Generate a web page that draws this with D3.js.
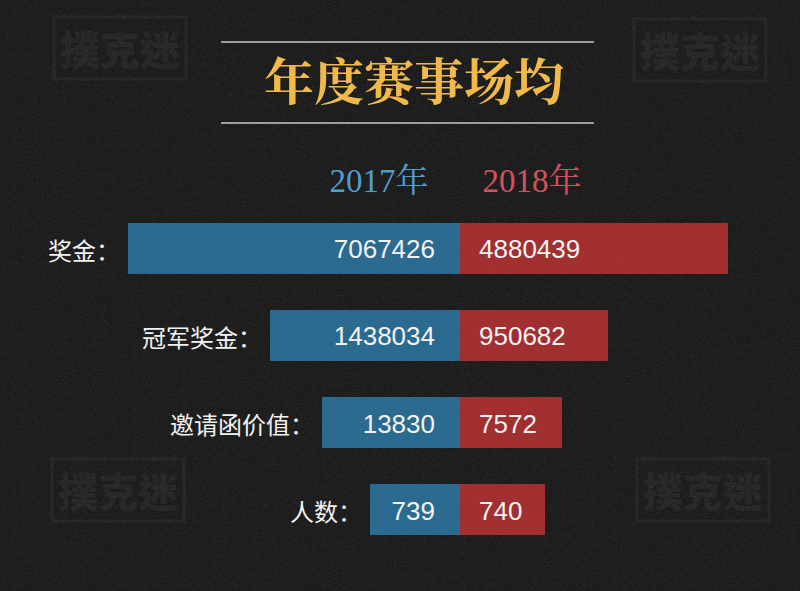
<!DOCTYPE html>
<html><head><meta charset="utf-8">
<script src="https://cdn.jsdelivr.net/npm/d3@7"></script>
<style>html,body{margin:0;padding:0;background:#1b1b1c;}svg{display:block;}</style>
</head><body>
<script>
const titleText = "年度赛事场均";
const seriesNames = ["2017年", "2018年"];
const categories = ["奖金", "冠军奖金", "邀请函价值", "人数"];
const values2017 = [7067426, 1438034, 13830, 739];
const values2018 = [4880439, 950682, 7572, 740];
const watermark = "撲克迷";

const W = 800, H = 591;
const svg = d3.select("body").append("svg").attr("width", W).attr("height", H);
const defs = svg.append("defs");
const f = defs.append("filter").attr("id", "noise").attr("x", 0).attr("y", 0).attr("width", "100%").attr("height", "100%");
f.append("feTurbulence").attr("type", "fractalNoise").attr("baseFrequency", 0.9).attr("numOctaves", 2).attr("seed", 3).attr("result", "n");
f.append("feColorMatrix").attr("type", "matrix").attr("values", "0 0 0 0 1  0 0 0 0 1  0 0 0 0 1  0 0 0 0.9 -0.45");
const f2 = defs.append("filter").attr("id", "noise2").attr("x", 0).attr("y", 0).attr("width", "100%").attr("height", "100%");
f2.append("feTurbulence").attr("type", "fractalNoise").attr("baseFrequency", 0.8).attr("numOctaves", 2).attr("seed", 7).attr("result", "n");
f2.append("feColorMatrix").attr("type", "matrix").attr("values", "0 0 0 0 1  0 0 0 0 1  0 0 0 0 1  0 0 0 0.6 -0.3");

// background
svg.append("rect").attr("width", W).attr("height", H).attr("fill", "#1c1c1d");
svg.append("rect").attr("width", W).attr("height", H).attr("filter", "url(#noise)").attr("opacity", 0.26);

// watermarks
const wmPos = [[120, 48], [700, 50], [118, 490], [703, 490]];
const wm = svg.append("g").attr("opacity", 0.045);
wmPos.forEach(([x, y]) => {
  wm.append("rect").attr("x", x - 66).attr("y", y - 31).attr("width", 132).attr("height", 62)
    .attr("fill", "none").attr("stroke", "#fff").attr("stroke-width", 3);
  wm.append("text").attr("x", x).attr("y", y).attr("text-anchor", "middle").attr("dominant-baseline", "central")
    .attr("font-family", "Noto Sans CJK TC").attr("font-weight", 900).attr("font-size", 40).attr("fill", "#fff").text(watermark);
});

// title
svg.append("line").attr("x1", 221).attr("x2", 594).attr("y1", 42).attr("y2", 42).attr("stroke", "#c9c9c9").attr("stroke-width", 1.5);
svg.append("line").attr("x1", 221).attr("x2", 594).attr("y1", 123).attr("y2", 123).attr("stroke", "#c9c9c9").attr("stroke-width", 1.5);
svg.append("text").attr("x", 414).attr("y", 100).attr("text-anchor", "middle")
  .attr("font-family", "'Noto Serif CJK SC','Noto Sans CJK SC'").attr("font-weight", 700)
  .attr("font-size", 50).attr("fill", "#f1b94a").text(titleText);

// legend
const legendColors = ["#4f9fcd", "#d4525b"];
const legendX = [379, 532];
seriesNames.forEach((s, i) => {
  svg.append("text").attr("x", legendX[i]).attr("y", 192).attr("text-anchor", "middle")
    .attr("font-family", "'Liberation Serif','Noto Serif CJK SC','Noto Sans CJK SC'")
    .attr("font-size", 33).attr("fill", legendColors[i]).text(s);
});

// scales
const cx = 460;
const y = d3.scaleBand().domain(categories).range([223, 535]).paddingInner(0.414).paddingOuter(0);
// the infographic's bar lengths are not proportional; piecewise scales along each series' values
const sorted17 = values2017.slice().sort(d3.ascending);
const sorted18 = values2018.slice().sort(d3.ascending);
const w17 = d3.scaleLinear().domain(sorted17).range([90, 138, 190, 332]);
const w18 = d3.scaleLinear().domain(sorted18).range([85, 102, 148, 268]);

const barColors = ["#2b6a8f", "#a12f30"];
const rows = svg.append("g").selectAll("g").data(categories).join("g");
const bh = y.bandwidth();

rows.append("rect").attr("x", (d, i) => cx - w17(values2017[i])).attr("y", d => y(d))
  .attr("width", (d, i) => w17(values2017[i])).attr("height", bh).attr("fill", barColors[0]);
rows.append("rect").attr("x", cx).attr("y", d => y(d))
  .attr("width", (d, i) => w18(values2018[i])).attr("height", bh).attr("fill", barColors[1]);
rows.append("rect").attr("x", (d, i) => cx - w17(values2017[i])).attr("y", d => y(d))
  .attr("width", (d, i) => w17(values2017[i]) + w18(values2018[i])).attr("height", bh)
  .attr("filter", "url(#noise2)").attr("opacity", 0.12);

rows.append("text").attr("x", cx - 25).attr("y", d => y(d) + bh / 2 + 1).attr("text-anchor", "end")
  .attr("dominant-baseline", "central").attr("font-family", "'Liberation Sans',Arial").attr("font-size", 26)
  .attr("fill", "#f2f2f2").text((d, i) => values2017[i]);
rows.append("text").attr("x", cx + 19).attr("y", d => y(d) + bh / 2 + 1).attr("text-anchor", "start")
  .attr("dominant-baseline", "central").attr("font-family", "'Liberation Sans',Arial").attr("font-size", 26)
  .attr("fill", "#f2f2f2").text((d, i) => values2018[i]);

rows.append("text").attr("x", (d, i) => cx - w17(values2017[i]) - 8).attr("y", d => y(d) + bh / 2 + 1)
  .attr("text-anchor", "end").attr("dominant-baseline", "central")
  .attr("font-family", "'Noto Sans CJK SC'").attr("font-size", 24).attr("fill", "#f2f2f2")
  .text(d => d + "：");
</script>
</body></html>
